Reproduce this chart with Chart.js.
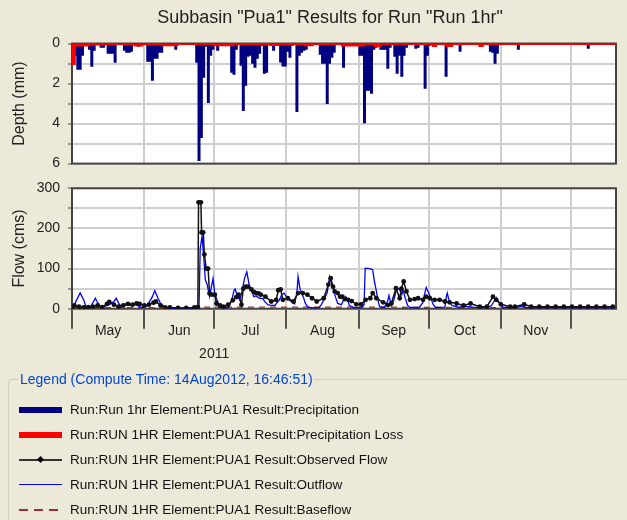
<!DOCTYPE html>
<html>
<head>
<meta charset="utf-8">
<script src="https://cdn.jsdelivr.net/npm/chart.js@4.4.1/dist/chart.umd.min.js"></script>
<style>
body { margin: 0; background: #ece9d8; width: 627px; height: 520px; overflow: hidden; position: relative;
  font-family: "Liberation Sans", Arial, sans-serif; }
#depth { position: absolute; left: 0; top: 0; }
#flow { position: absolute; left: 0; top: 170px; }
#legend { position: absolute; left: 8px; top: 371px; width: 640px; height: 200px; margin: 0; padding: 0;
  border: 1px solid #d0d0bf; border-radius: 4px; box-sizing: border-box; }
#legend legend { color: #0046d5; font-size: 14px; padding: 0 1px; margin-left: 10px; }
#rows { position: absolute; left: 0; top: 397px; }
.row { height: 25px; display: flex; align-items: center; font-size: 13.5px; color: #111; }
.sym { display: inline-block; width: 43px; margin-left: 19px; margin-right: 8px; position: relative; }
.dot { position: absolute; left: 19px; top: -2px; width: 5px; height: 5px; background: #000; transform: rotate(45deg); }
</style>
</head>
<body>
<canvas id="depth" width="627" height="180"></canvas>
<canvas id="flow" width="627" height="200"></canvas>
<fieldset id="legend"><legend>Legend (Compute Time: 14Aug2012, 16:46:51)</legend></fieldset>
<div id="rows">
  <div class="row"><span class="sym" style="height:6px;background:#000080"></span>Run:Run 1hr Element:PUA1 Result:Precipitation</div>
  <div class="row"><span class="sym" style="height:6px;background:#ff0000"></span>Run:RUN 1HR Element:PUA1 Result:Precipitation Loss</div>
  <div class="row"><span class="sym" style="height:2px;background:#333"><span class="dot"></span></span>Run:RUN 1HR Element:PUA1 Result:Observed Flow</div>
  <div class="row"><span class="sym" style="height:1px;background:#0000ff"></span>Run:RUN 1HR Element:PUA1 Result:Outflow</div>
  <div class="row"><span class="sym" style="height:2px;background:repeating-linear-gradient(90deg,#9a2f2f 0 9px,transparent 9px 15px)"></span>Run:RUN 1HR Element:PUA1 Result:Baseflow</div>
</div>
<script>
// days counted from 1 May 2011
const monthStart = [0, 31, 61, 92, 123, 153, 184, 214]
const monthNames = ['May', 'Jun', 'Jul', 'Aug', 'Sep', 'Oct', 'Nov']
const yearLabel = '2011'
const yearTick = 61
const lastDay = 233.4

// daily precipitation (mm)
const precip = [
  // May
  1.0,0.6,1.3,1.3,0.6,0,0.05,0.3,1.15,0.35,0.05,0,0.2,0.2,0,0.5,0.5,0.5,0.95,0,0.05,0,0.35,0.45,0.45,0.4,0,0,0.15,0,0,
  // Jun
  0,0.9,0.9,1.85,0.75,0.75,0.45,0.45,0,0.05,0,0,0.1,0.3,0,0.05,0,0,0,0,0,0,0.95,5.85,4.7,1.7,0.15,2.95,0.6,0.3,
  // Jul
  0,0.35,0,0,0,0,0.1,1.45,1.55,0.3,0,1.1,3.35,2.1,0.65,0.6,1.0,1.2,0.75,0.5,0.1,1.5,1.45,0,0.05,0.35,0.05,0,0.93,1.13,1.13,
  // Aug
  0.4,0.7,0.1,0,3.4,0.6,0.45,0.35,0.3,0,0,0.05,0,0,0.55,1.0,1.0,3.0,1.0,0.7,0.45,0,0.05,0,1.2,0.05,0,0.05,0,0.05,0,
  // Sep
  0.6,0.6,3.97,2.35,2.35,2.5,0.3,0.2,0.15,0.3,0.3,0.3,1.25,0.2,0,0.65,1.5,0.6,1.65,0.6,0.2,0,0,0,0.25,0.2,0,0.05,2.25,0.6,
  // Oct
  0.1,0,0.05,0,0,0,0,1.65,0,0,0,0.05,0,0.4,0,0,0,0,0,0,0,0.05,0,0,0,0,0.4,0.45,1.0,0.5,0,
  // Nov
  0,0,0,0,0,0,0,0.3,0,0,0,0,0,0,0,0,0,0,0,0,0,0,0,0,0,0,0,0,0,0,
  // Dec
  0,0,0,0,0,0,0,0.25,0,0,0,0,0,0,0,0,0,0,0,0
]

// precipitation loss (mm), value holds from that day on
const lossDay = [0, 1, 7, 14, 27, 30, 39, 45, 61, 69, 85, 89, 100, 103, 116, 125, 130, 132, 155, 156, 161, 163, 175, 176, 233.4]
const lossVal = [1.0, 0.08, 0.03, 0, 0.08, 0, 0.06, 0, 0.06, 0, 0.05, 0, 0.06, 0, 0.08, 0, 0.1, 0, 0.1, 0, 0.1, 0, 0.1, 0, 0]

// observed flow (cms)
const obsDay = [0,1,3,5,7,9,11,13,15,16,18,20,22,24,26,27.7,29,31,33,35,36,38,40,42,45.5,49,52.5,54,54.3,55.3,55.6,56.3,56.8,57.6,58.4,59,60,61.3,62,63.5,65,67,69,70.5,71.5,72.7,73.5,74.5,75.5,77,78,79,80,81,83,85.5,87.6,88.5,89.5,90.5,92.6,95,97,99,101,103,105,108,110,111,112,112.7,114,115,116,117,118.5,120,122,124,126,128,129,130.6,133.5,135.6,137,139,140.6,141.3,142.3,143.5,145,147,148.5,150.6,152,153.5,155.6,157.7,160,162,165,168,171,175,178,180.6,182,184,188,190,194,197,200.5,204,207.5,211,214.5,218,221.5,225,228.5,232]
const obsFlow = [3,8,5,3,4,5,8,4,12,17,10,5,8,12,10,13,12,8,10,15,18,8,3,3,2,2,3,4,265,265,190,190,135,100,100,38,35,35,13,8,5,10,21,29,35,10,50,55,55,48,42,39,38,35,30,18,22,46,48,22,26,18,39,39,35,26,18,26,60,76,55,43,39,30,30,24,22,19,11,11,22,26,39,26,16,9,13,51,26,50,68,43,22,24,26,22,30,26,22,22,18,16,13,8,13,5,5,30,22,11,5,5,11,5,5,5,5,5,5,5,5,5,5,5]

// simulated outflow (cms)
const outDay = [0,1,2,3.5,5,6,8,9,10,11,12,14,16,18,19,20,21,23,25,27,28,30,32,33,34.5,35.5,37,38,40,42,52,54.5,55,55.8,56.5,57.2,58,59,60.5,61.2,62,63,64,67,68.5,69.5,70,71,72,73,74,75,76,77,78,79,80.5,82,82.6,84,85,87,88,89,90,91,92,93,94,95.5,96.5,97,97.8,98.5,99.5,100,101,103,106,107,108,109.5,110.5,111.5,112,113,114,115.6,116.5,117.5,118.5,119,121,124,125.3,125.8,127.7,129,129.7,130.6,131.5,132,134,135.5,136,137,138,139,140,140.6,141.5,142,143,144,145,149,150.5,151,152,153,154,155,156,160,160.6,161,161.8,163,165.6,169,172,178,180,181,182,183.5,185,190,193,195,233]
const outFlow = [8,10,22,39,22,5,6,15,26,15,7,6,10,18,26,14,5,12,8,13,8,3,6,15,30,45,25,13,3,1,1,2,150,181,131,72,60,30,75,40,25,9,3,2,20,45,49,30,22,45,75,92,60,45,30,32,26,25,18,10,9,8,15,22,35,39,30,22,18,12,40,80,50,39,25,15,5,2,3,10,22,40,79,60,51,30,13,10,22,30,18,8,3,2,10,101,100,97,70,43,15,5,3,20,33,8,20,43,50,47,35,47,26,8,3,3,15,30,53,40,26,10,3,4,30,39,20,8,4,6,4,2,8,18,28,13,3,3,6,3,2]

// baseflow (cms)
const baseDay = [0, 50, 55, 70, 100, 130, 160, 200, 233]
const baseFlow = [3, 2, 4, 4, 4, 4, 3, 2, 2]

const font = '"Liberation Sans", Arial, sans-serif'
const gridColor = '#cfcfcf'
const axisColor = '#444'

const plotBox = {
  id: 'plotBox',
  beforeDraw(chart) {
    const a = chart.chartArea, c = chart.ctx
    c.save()
    c.fillStyle = '#fff'
    c.fillRect(a.left, a.top, a.width, a.height)
    c.restore()
  },
  beforeDatasetsDraw(chart) {
    const a = chart.chartArea, c = chart.ctx
    c.save()
    c.strokeStyle = axisColor
    c.lineWidth = 2
    c.strokeRect(a.left, a.top, a.width, a.height)
    c.restore()
  }
}

function monthTicks(scale) {
  scale.ticks = monthStart.map(d => ({ value: d }))
}

function labelTicks(scale) {
  const t = monthStart.map(d => ({ value: d }))
  monthNames.forEach((m, i) => t.push({ value: (monthStart[i] + monthStart[i + 1]) / 2 }))
  t.sort((a, b) => a.value - b.value)
  scale.ticks = t
}

const isEdge = v => monthStart.includes(v)

new Chart(document.getElementById('depth'), {
  type: 'bar',
  data: {
    datasets: [{
      type: 'line',
      label: 'Precipitation Loss',
      data: lossDay.map((d, i) => ({ x: d, y: lossVal[i] })),
      borderColor: '#ff0000',
      backgroundColor: '#ff0000',
      borderWidth: 3,
      stepped: true,
      fill: 'origin',
      pointRadius: 0,
      order: 0
    }, {
      label: 'Precipitation',
      data: precip.map((v, i) => ({ x: i + 0.5, y: v })),
      backgroundColor: '#000080',
      borderWidth: 0,
      barPercentage: 1,
      categoryPercentage: 1,
      grouped: false,
      order: 1
    }]
  },
  options: {
    responsive: false,
    animation: false,
    // left padding moves the title centre to match the original
    layout: { padding: { left: 44, right: 11, top: 0, bottom: 0 } },
    plugins: {
      legend: { display: false },
      tooltip: { enabled: false },
      title: {
        display: true,
        text: 'Subbasin "Pua1" Results for Run "Run 1hr"',
        color: '#222',
        font: { family: font, size: 18, weight: 'normal' },
        padding: { top: 7.2, bottom: 14.7 }
      }
    },
    scales: {
      x: {
        type: 'linear',
        min: 0,
        max: lastDay,
        offset: false,
        afterBuildTicks: monthTicks,
        afterFit: s => { s.height = 0 },
        ticks: { display: false },
        grid: { color: gridColor, lineWidth: 2, drawTicks: false, offset: false },
        border: { display: false }
      },
      y: {
        min: 0,
        max: 6,
        reverse: true,
        afterFit: s => { s.width = 28 },
        ticks: {
          stepSize: 1,
          padding: 8,
          color: '#222',
          font: { family: font, size: 14 },
          callback: v => (v % 2 === 0 ? v : '')
        },
        grid: { color: gridColor, lineWidth: 2, tickLength: 4, tickColor: axisColor, tickWidth: 1 },
        border: { display: false },
        title: { display: true, text: 'Depth (mm)', color: '#222', font: { family: font, size: 16 }, padding: { top: -33.6, bottom: 0 } }
      }
    }
  },
  plugins: [plotBox]
})

new Chart(document.getElementById('flow'), {
  type: 'line',
  data: {
    datasets: [{
      label: 'Observed Flow',
      data: obsDay.map((d, i) => ({ x: d, y: obsFlow[i] })),
      borderColor: '#111',
      backgroundColor: '#111',
      borderWidth: 1.5,
      pointStyle: 'circle',
      pointRadius: 2.4,
      pointBorderWidth: 0,
      tension: 0,
      order: 0
    }, {
      label: 'Outflow',
      data: outDay.map((d, i) => ({ x: d, y: outFlow[i] })),
      borderColor: '#0000ff',
      borderWidth: 1.3,
      pointRadius: 0,
      tension: 0,
      order: 1
    }, {
      label: 'Baseflow',
      data: baseDay.map((d, i) => ({ x: d, y: baseFlow[i] })),
      borderColor: '#a03020',
      borderWidth: 1.3,
      borderDash: [6, 5],
      pointRadius: 0,
      tension: 0,
      order: 2
    }]
  },
  options: {
    responsive: false,
    animation: false,
    layout: { padding: { left: 0, right: 11, top: 18.3, bottom: 1.3 } },
    plugins: { legend: { display: false }, tooltip: { enabled: false } },
    scales: {
      x: {
        type: 'linear',
        min: 0,
        max: lastDay,
        afterBuildTicks: labelTicks,
        afterFit: s => { s.height += 12 },
        ticks: {
          autoSkip: false,
          maxRotation: 0,
          padding: -9,
          color: '#222',
          font: { family: font, size: 14, lineHeight: '23px' },
          callback: v => {
            if (v === yearTick) return ['', yearLabel]
            if (isEdge(v)) return ''
            return monthNames[monthStart.findIndex(d => d > v) - 1]
          }
        },
        grid: {
          color: c => (c.tick && isEdge(c.tick.value) ? gridColor : 'rgba(0,0,0,0)'),
          tickColor: c => (c.tick && isEdge(c.tick.value) ? '#222' : 'rgba(0,0,0,0)'),
          lineWidth: 2,
          tickWidth: 1.5,
          tickLength: 20
        },
        border: { display: false }
      },
      y: {
        min: 0,
        max: 300,
        afterFit: s => { s.width = 72 },
        ticks: {
          stepSize: 50,
          padding: 8,
          color: '#222',
          font: { family: font, size: 14 },
          callback: v => (v % 100 === 0 ? v : '')
        },
        grid: { color: gridColor, lineWidth: 2, tickLength: 4, tickColor: axisColor, tickWidth: 1 },
        border: { display: false },
        title: { display: true, text: 'Flow (cms)', color: '#222', font: { family: font, size: 16 }, padding: { top: 10.4, bottom: 0 } }
      }
    }
  },
  plugins: [plotBox]
})
</script>
</body>
</html>
